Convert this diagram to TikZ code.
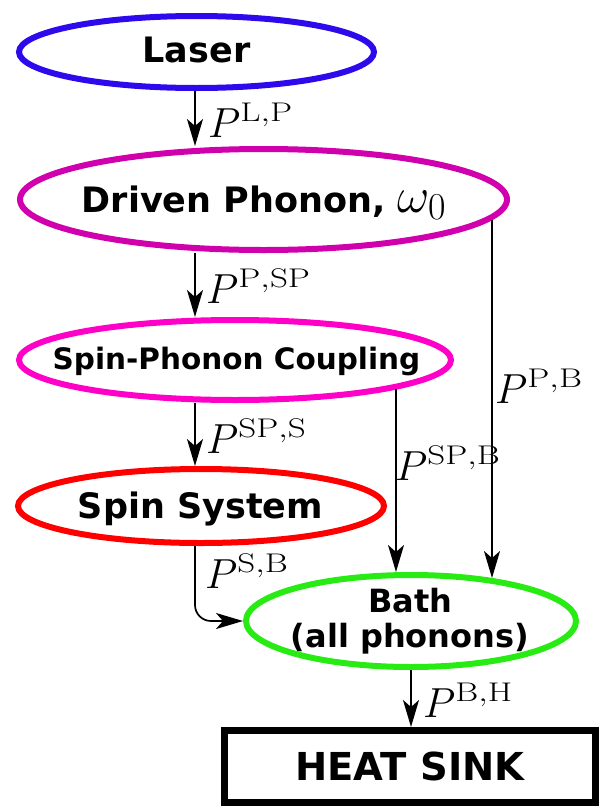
\RequirePackage{fix-cm}
\documentclass[tikz,border=0pt]{standalone}
\usepackage{fontspec}
\newfontfamily\djv{DejaVu Sans}
\usetikzlibrary{arrows.meta,shapes.geometric}
\DeclareMathSizes{42}{42}{27}{20}
\DeclareMathSizes{50}{50}{38}{28}
\newcommand\supr[1]{\scalebox{1.3}[1]{$\scriptstyle\mathrm{#1}$}}
\definecolor{cLaser}{RGB}{45,10,235}
\definecolor{cDriven}{RGB}{208,0,172}
\definecolor{cSP}{RGB}{255,0,200}
\definecolor{cSpin}{RGB}{255,0,0}
\definecolor{cBath}{RGB}{40,235,20}
\begin{document}
\begin{tikzpicture}[x=1pt,y=-1pt,
  ell/.style={ellipse, draw, line width=6pt, inner sep=0pt},
  lbl/.style={anchor=base west, inner sep=0pt, font=\fontsize{42}{44}\selectfont},
  conn/.style={line width=1.7pt, -{Stealth[length=27pt,width=16pt,inset=7pt]}},
  txt/.style={anchor=base, inner sep=0pt}
]
\useasboundingbox (0,0) rectangle (602,806);
% shapes
\node[ell, draw=cLaser, minimum width=355pt, minimum height=72pt] (laser) at (196.5,52) {};
\node[ell, draw=cDriven, minimum width=487pt, minimum height=101pt] (driven) at (263.5,199.5) {};
\node[ell, draw=cSP, minimum width=432pt, minimum height=80pt] (sp) at (235,360) {};
\node[ell, draw=cSpin, minimum width=366pt, minimum height=74pt] (spin) at (201,506) {};
\node[ell, draw=cBath, minimum width=330pt, minimum height=92pt] (bath) at (411,621) {};
\node[draw, line width=7pt, minimum width=371pt, minimum height=72pt, inner sep=0pt,
      font=\djv\bfseries\fontsize{38.5}{40}\selectfont] (sink) at (410,766.5) {HEAT SINK};
% texts
\node[txt, font=\djv\bfseries\fontsize{35}{40}\selectfont] (laserT) at (196.5,62) {Laser};
\node[txt, font=\djv\bfseries\fontsize{35}{40}\selectfont] (drivenT) at (264,212) {Driven Phonon, {\fontsize{50}{52}\selectfont$\omega_0$}};
\node[txt, font=\djv\bfseries\fontsize{29.5}{34}\selectfont] (spT) at (236.5,369) {Spin-Phonon Coupling};
\node[txt, font=\djv\bfseries\fontsize{35}{40}\selectfont] (spinT) at (200.5,518) {Spin System};
\node[txt, font=\djv\bfseries\fontsize{32}{35}\selectfont] (bathT1) at (410.5,612) {Bath};
\node[txt, font=\djv\bfseries\fontsize{32}{35}\selectfont] (bathT2) at (410,647) {(all phonons)};
% connector x positions
\coordinate (xA) at (195,0);
\coordinate (xB1) at (396,0);
\coordinate (xB2) at (492,0);
% connectors
\draw[conn] (laser.south -| xA) -- (driven.north -| xA);
\draw[conn] (driven.south -| xA) -- (sp.north -| xA);
\draw[conn] (sp.south -| xA) -- (spin.north -| xA);
\draw[conn, rounded corners=16pt] (spin.south -| xA) |- (bath.west);
\draw[conn] (sp.-10 -| xB1) -- (bath.north -| xB1);
\draw[conn] (driven.-5 -| xB2) -- (bath.28 -| xB2);
\draw[conn] (bath.south) -- (bath.south |- sink.north);
% labels
\node[lbl] (lLP) at (208,137) {$P^{\supr{L,P}}$};
\node[lbl] (lPSP) at (206,303) {$P^{\supr{P,SP}}$};
\node[lbl] (lSPS) at (206,453) {$P^{\supr{SP,S}}$};
\node[lbl] (lSB) at (205,588) {$P^{\supr{S,B}}$};
\node[lbl] (lSPB) at (395,480) {$P^{\supr{SP,B}}$};
\node[lbl] (lPB) at (495,403) {$P^{\supr{P,B}}$};
\node[lbl] (lBH) at (423,717) {$P^{\supr{B,H}}$};
\end{tikzpicture}
\end{document}
